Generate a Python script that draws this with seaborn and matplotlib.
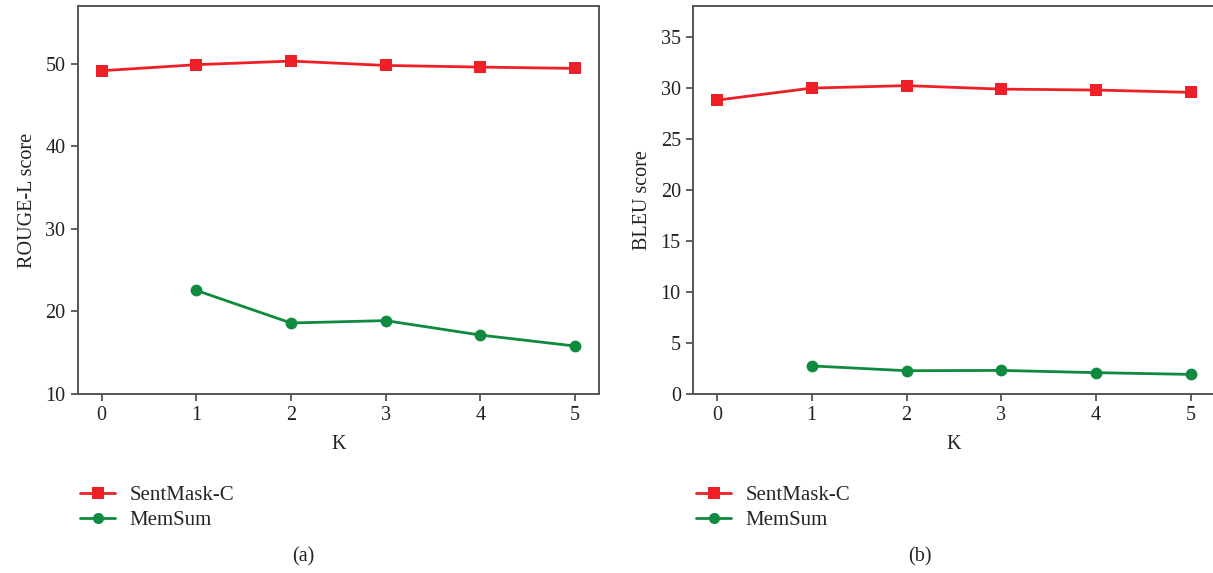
import matplotlib
matplotlib.use("Agg")
import matplotlib.pyplot as plt
import seaborn as sns
import pandas as pd
import numpy as np
from matplotlib.lines import Line2D

# ---- data ----
k_sent = [0, 1, 2, 3, 4, 5]
k_mem = [1, 2, 3, 4, 5]
rouge_sentmask = [49.16, 49.89, 50.33, 49.80, 49.60, 49.44]
rouge_memsum = [22.55, 18.60, 18.89, 17.14, 15.81]
bleu_sentmask = [28.78, 29.96, 30.20, 29.86, 29.77, 29.54]
bleu_memsum = [2.75, 2.28, 2.31, 2.09, 1.92]
series_names = ["SentMask-C", "MemSum"]
rouge_ticks = [10, 20, 30, 40, 50]
bleu_ticks = [0, 5, 10, 15, 20, 25, 30, 35]

RED = "#ee1f26"
GREEN = "#0f8a3f"
SPINE = "#555555"

sns.set_theme(style="white")
plt.rcParams["font.family"] = ["Liberation Serif", "DejaVu Serif"]

W, H = 1213, 573
fig = plt.figure(figsize=(W / 100, H / 100), dpi=100)

def px_axes(x0, x1, y0, y1):
    return fig.add_axes([x0 / W, 1 - y1 / H, (x1 - x0) / W, (y1 - y0) / H])

ax1 = px_axes(78, 598.7, 6, 394)
ax2 = px_axes(693.3, 1214.5, 6, 394)

def draw(ax, ys, ym, ylim, yticks, ylabel):
    df_s = pd.DataFrame({"K": k_sent, "score": ys})
    df_m = pd.DataFrame({"K": k_mem, "score": ym})
    sns.lineplot(data=df_s, x="K", y="score", ax=ax, color=RED, marker="s",
                 markersize=9, markeredgewidth=0, linewidth=2.0)
    sns.lineplot(data=df_m, x="K", y="score", ax=ax, color=GREEN, marker="o",
                 markersize=8.5, markeredgewidth=0, linewidth=2.0)
    ax.set_xlim(-0.25, 5.25)
    ax.set_ylim(*ylim)
    ax.set_xticks(k_sent)
    ax.set_yticks(yticks)
    ax.set_xlabel("K", fontsize=14.5, color="#222222", labelpad=7)
    ax.set_ylabel(ylabel, fontsize=14.5, color="#222222", labelpad=6)
    for s in ax.spines.values():
        s.set_color(SPINE)
        s.set_linewidth(1.4)
    ax.tick_params(axis="both", which="major", direction="out", length=5,
                   width=1.3, color=SPINE, labelsize=14.5, labelcolor="#222222",
                   bottom=True, left=True, pad=4)

draw(ax1, rouge_sentmask, rouge_memsum, (10, 57), rouge_ticks, "ROUGE-L score")
draw(ax2, bleu_sentmask, bleu_memsum, (0, 38), bleu_ticks, "BLEU score")

handles = [
    Line2D([], [], color=RED, marker="s", markersize=8, markeredgewidth=0, linewidth=2.0),
    Line2D([], [], color=GREEN, marker="o", markersize=8, markeredgewidth=0, linewidth=2.0),
]

for x0 in (78, 694):
    fig.legend(handles, series_names, loc="upper left",
               bbox_to_anchor=((x0 - 8) / W, 1 - 475 / H), frameon=False,
               fontsize=15, handlelength=1.65, handletextpad=0.7,
               labelspacing=0.25, borderaxespad=0, borderpad=0.5)

fig.text(303 / W, 1 - 557 / H, "(a)", ha="center", va="center", fontsize=14.5, color="#222222")
fig.text(920 / W, 1 - 557 / H, "(b)", ha="center", va="center", fontsize=14.5, color="#222222")

fig.savefig("out.png", dpi=100)
